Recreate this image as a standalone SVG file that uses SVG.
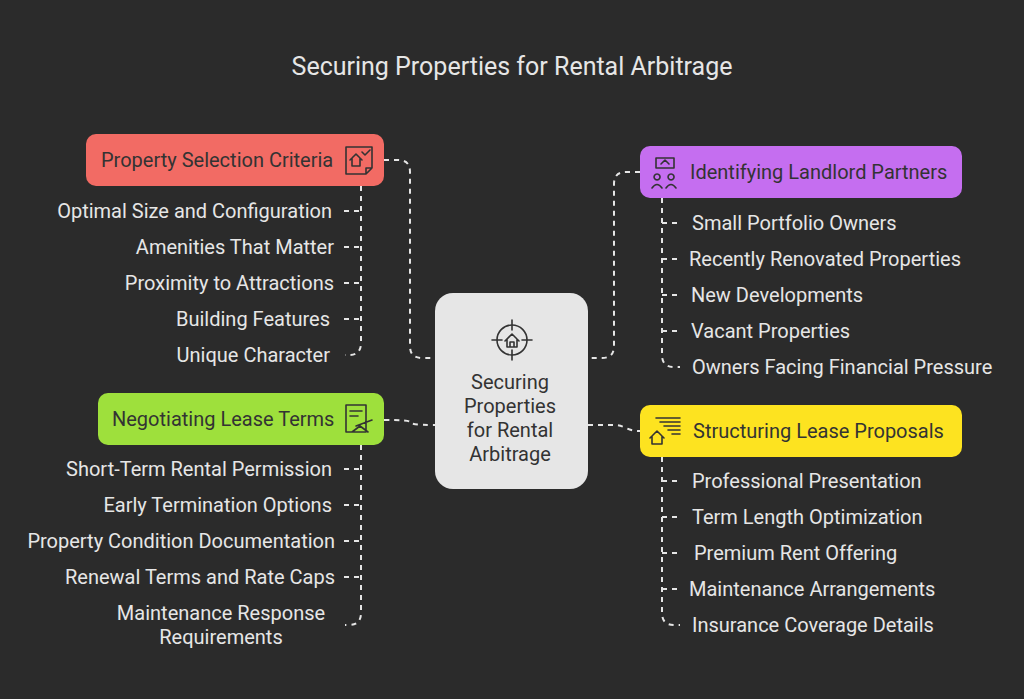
<svg xmlns="http://www.w3.org/2000/svg" width="1024" height="699" viewBox="0 0 1024 699">
<style>
.t{font-family:Roboto,"Liberation Sans",sans-serif;font-size:20px;fill:#e6e6e6}
.n{font-family:Roboto,"Liberation Sans",sans-serif;font-size:20px;fill:#333}
.c{fill:none;stroke:#e6e6e6;stroke-width:2;stroke-dasharray:5,5}
.i{fill:none;stroke:#333;stroke-width:1.6;stroke-linecap:round;stroke-linejoin:round}
</style>
<rect width="1024" height="699" fill="#2b2b2b"/>
<text x="512" y="75" text-anchor="middle" font-family="Roboto,'Liberation Sans',sans-serif" font-size="25" fill="#e6e6e6">Securing Properties for Rental Arbitrage</text>
<g id="connectors">
<path class="c" d="M384,160 H398 Q410,160 410,172 V346 Q410,358 422,358 H435"/>
<path class="c" d="M640,172 H626 Q614,172 614,184 V346 Q614,358 602,358 H588"/>
<path class="c" d="M384,420 Q410,420 410,422 Q410,425 435,425"/>
<path class="c" d="M588,425 H614 Q620,425 626,428 Q632,431 640,431"/>
<path class="c" d="M361,186 V343 Q361,355 349,355 H345"/>
<path class="c" d="M344,211 H361 M344,247 H361 M344,283 H361 M344,319 H361"/>
<path class="c" d="M361,445 V613 Q361,625 349,625 H345"/>
<path class="c" d="M344,469 H361 M344,505 H361 M344,541 H361 M344,577 H361"/>
<path class="c" d="M662,198 V355 Q662,367 674,367 H680"/>
<path class="c" d="M662,223 H680 M662,259 H680 M662,295 H680 M662,331 H680"/>
<path class="c" d="M662,457 V613 Q662,625 674,625 H680"/>
<path class="c" d="M662,481 H680 M662,517 H680 M662,553 H680 M662,589 H680"/>
</g>
<g id="center">
<rect x="435" y="293" width="153" height="196" rx="18" fill="#e6e6e6"/>
<circle class="i" cx="512" cy="340" r="15"/>
<path class="i" d="M512,320 V330 M512,350 V360 M492,340 H502 M522,340 H532 M505,341 L512,334 L519,341 M507,339 V347 H517 V339 M510,347 V342 H514 V347"/>
<text class="n" text-anchor="middle"><tspan x="510" y="389">Securing</tspan><tspan x="510" y="413">Properties</tspan><tspan x="510" y="437">for Rental</tspan><tspan x="510" y="461">Arbitrage</tspan></text>
</g>
<g id="property-selection">
<rect x="86" y="134" width="298" height="52" rx="10" fill="#f26b64"/>
<text class="n" x="101" y="167">Property Selection Criteria</text>
<path class="i" d="M346,147 H372 V168 L366,174 H346 Z M366,174 V168 H372 M350,160 L356,154 L362,160 M352,158 V166 H360 V158 M362,152 L365,155 L370,150"/>
</g>
<g id="selection-items">
<text class="t" x="332" y="218" text-anchor="end">Optimal Size and Configuration</text>
<text class="t" x="334" y="254" text-anchor="end">Amenities That Matter</text>
<text class="t" x="334" y="290" text-anchor="end">Proximity to Attractions</text>
<text class="t" x="330" y="326" text-anchor="end">Building Features</text>
<text class="t" x="330" y="362" text-anchor="end">Unique Character</text>
</g>
<g id="landlord">
<rect x="640" y="146" width="322" height="52" rx="10" fill="#c56ef0"/>
<path class="i" d="M656,158 H674 V168 H656 Z M661,164 L665,160 L669,164 M657,180 a3,3 0 1 1 0.1,0 M671,180 a3,3 0 1 1 0.1,0 M652,188 Q657,181 662,188 M666,188 Q671,181 676,188"/>
<text class="n" x="690" y="179">Identifying Landlord Partners</text>
</g>
<g id="landlord-items">
<text class="t" x="692" y="230">Small Portfolio Owners</text>
<text class="t" x="689" y="266">Recently Renovated Properties</text>
<text class="t" x="691" y="302">New Developments</text>
<text class="t" x="691" y="338">Vacant Properties</text>
<text class="t" x="692" y="374">Owners Facing Financial Pressure</text>
</g>
<g id="negotiating">
<rect x="98" y="393" width="286" height="52" rx="10" fill="#9ee03c"/>
<text class="n" x="112" y="426">Negotiating Lease Terms</text>
<path class="i" d="M346,405 H366 V432 H346 Z M350,411 H362 M350,416 H358 M356,426 L372,420 M352,432 L360,426 L368,432"/>
</g>
<g id="negotiating-items">
<text class="t" x="332" y="476" text-anchor="end">Short-Term Rental Permission</text>
<text class="t" x="332" y="512" text-anchor="end">Early Termination Options</text>
<text class="t" x="335" y="548" text-anchor="end">Property Condition Documentation</text>
<text class="t" x="335" y="584" text-anchor="end">Renewal Terms and Rate Caps</text>
<text class="t" text-anchor="middle"><tspan x="221" y="620">Maintenance Response</tspan><tspan x="221" y="644">Requirements</tspan></text>
</g>
<g id="structuring">
<rect x="640" y="405" width="322" height="52" rx="10" fill="#fde320"/>
<path class="i" d="M656,418 H680 M660,422 H680 M664,426 H680 M668,430 H680 M672,434 H680 M650,438 L657,431 L664,438 M652,436 V444 H662 V436"/>
<text class="n" x="693" y="438">Structuring Lease Proposals</text>
</g>
<g id="structuring-items">
<text class="t" x="692" y="488">Professional Presentation</text>
<text class="t" x="692" y="524">Term Length Optimization</text>
<text class="t" x="694" y="560">Premium Rent Offering</text>
<text class="t" x="689" y="596">Maintenance Arrangements</text>
<text class="t" x="692" y="632">Insurance Coverage Details</text>
</g>
</svg>
